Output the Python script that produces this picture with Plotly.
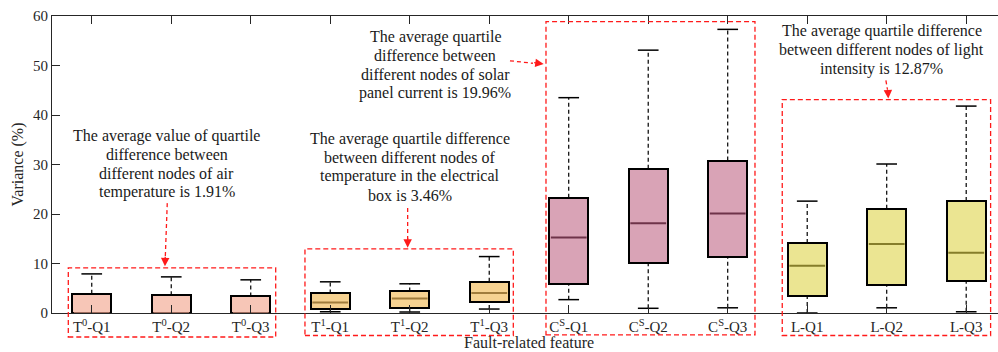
import plotly.graph_objects as go

# ---- data -------------------------------------------------------------
categories = [
    "T<sup>0</sup>-Q1", "T<sup>0</sup>-Q2", "T<sup>0</sup>-Q3",
    "T<sup>1</sup>-Q1", "T<sup>1</sup>-Q2", "T<sup>1</sup>-Q3",
    "C<sup>S</sup>-Q1", "C<sup>S</sup>-Q2", "C<sup>S</sup>-Q3",
    "L-Q1", "L-Q2", "L-Q3",
]
upper_whisker = [7.9, 7.3, 6.7, 6.3, 5.9, 11.4, 43.5, 53.1, 57.3, 22.6, 30.1, 41.8]
q3_values = [3.9, 3.6, 3.35, 3.95, 4.35, 6.3, 23.3, 29.15, 30.8, 14.15, 21.05, 22.65]
median_values = [0.0, 0.0, 0.0, 2.1, 2.95, 4.05, 15.25, 18.15, 20.1, 9.55, 13.95, 12.15]
q1_values = [0.0, 0.0, 0.0, 0.85, 1.0, 2.15, 5.95, 10.2, 11.3, 3.5, 5.7, 6.5]
lower_whisker = [0.0, 0.0, 0.0, 0.25, 0.2, 0.8, 2.7, 0.95, 1.05, 0.0, 1.05, 0.25]

group_notes = [
    ["The average value of quartile", "difference between",
     "different nodes of air", "temperature is 1.91%"],
    ["The average quartile difference", "between different nodes of",
     "temperature in the electrical", "box is 3.46%"],
    ["The average quartile", "difference between",
     "different nodes of solar", "panel current is 19.96%"],
    ["The average quartile difference", "between different nodes of light",
     "intensity is 12.87%"],
]
y_ticks = [0, 10, 20, 30, 40, 50, 60]

# ---- styling ----------------------------------------------------------
FONT = "Liberation Serif, Times New Roman, serif"
AX = "#262626"
fills = ["#F7C6B7"] * 3 + ["#F6D291"] * 3 + ["#D9A3B6"] * 3 + ["#EBE592"] * 3
median_colors = ["#9C6A5C"] * 3 + ["#A07C3C"] * 3 + ["#6E3349"] * 3 + ["#857D2A"] * 3
Y_MIN, Y_MAX = 0, 60
BOX_W = 0.49
CAP_W = 0.26

pos = list(range(1, len(categories) + 1))

fig = go.Figure()

# whiskers (dashed) from box edges to whisker ends
wx, wy = [], []
for p, lo, q1, q3, hi in zip(pos, lower_whisker, q1_values, q3_values, upper_whisker):
    wx += [p, p, None, p, p, None]
    wy += [q3, hi, None, lo, q1, None]
fig.add_trace(go.Scatter(x=wx, y=wy, mode="lines", hoverinfo="skip",
                         line=dict(color="black", width=1.2, dash="4px,3px"),
                         showlegend=False))

# boxes between first and third quartile
fig.add_trace(go.Bar(
    x=pos, y=[b - a for a, b in zip(q1_values, q3_values)], base=q1_values,
    width=BOX_W, marker=dict(color=fills, line=dict(color="black", width=2)),
    showlegend=False, hoverinfo="skip",
))

# whisker caps
cx, cy = [], []
for p, lo, hi in zip(pos, lower_whisker, upper_whisker):
    cx += [p - CAP_W / 2, p + CAP_W / 2, None, p - CAP_W / 2, p + CAP_W / 2, None]
    cy += [hi, hi, None, lo, lo, None]
fig.add_trace(go.Scatter(x=cx, y=cy, mode="lines", hoverinfo="skip",
                         line=dict(color="black", width=1.5), showlegend=False))

# medians
for p, m, c in zip(pos, median_values, median_colors):
    fig.add_trace(go.Scatter(x=[p - BOX_W / 2 + 0.02, p + BOX_W / 2 - 0.02], y=[m, m],
                             mode="lines", line=dict(color=c, width=2),
                             hoverinfo="skip", showlegend=False))


def ypaper(v):
    return (v - Y_MIN) / (Y_MAX - Y_MIN)


# dashed red frames round each feature group
frames = [
    (0.705, 3.314, -4.85, 9.1),
    (3.682, 6.303, -4.55, 12.95),
    (6.714, 9.343, -4.4, 58.85),
    (9.686, 12.307, -4.55, 43.1),
]
shapes = []
for x0, x1, y0, y1 in frames:
    shapes.append(dict(type="rect", xref="x", yref="paper", x0=x0, x1=x1,
                       y0=ypaper(y0), y1=ypaper(y1),
                       line=dict(color="#FF1A1A", width=1.3, dash="5px,3px"),
                       fillcolor="rgba(0,0,0,0)", layer="above"))

# arrows: dashed shaft + arrow head
arrows = [
    # (x_tail, y_tail, x_head, y_head, head_dx_px, head_dy_px)
    (1.950, 22.2, 1.925, 11.2, 0.3, -11),
    (4.974, 21.2, 4.974, 14.9, 0, -11),
    (6.261, 50.95, 6.55, 50.45, -11, -1.5),
    (10.99, 47.0, 11.01, 45.1, -0.5, -10),
]
heads = [
    (1.921, 9.45),
    (4.974, 13.2),
    (6.685, 50.3),
    (11.02, 43.35),
]
annotations = []
for (xt, yt, xh, yh, dx, dy), (hx, hy) in zip(arrows, heads):
    shapes.append(dict(type="line", xref="x", yref="y", x0=xt, y0=yt, x1=xh, y1=yh,
                       line=dict(color="#FF1A1A", width=1.3, dash="4px,3px")))
    annotations.append(dict(x=hx, y=hy, xref="x", yref="y", text="", showarrow=True,
                            ax=dx, ay=dy, arrowhead=2, arrowsize=1.3, arrowwidth=1.3,
                            arrowcolor="#FF1A1A", standoff=0, startstandoff=0))

# note text, one annotation per line for a tight leading
LINE_STEP = 3.8  # data units between consecutive lines
note_top = [(1.943, 35.8), (5.003, 35.2), (5.318, 55.8), (10.937, 56.9)]
for (nx, ny), lines in zip(note_top, group_notes):
    for i, line in enumerate(lines):
        annotations.append(dict(x=nx, y=ny - i * LINE_STEP, xref="x", yref="y", text=line,
                                showarrow=False, xanchor="center", yanchor="middle",
                                font=dict(family=FONT, size=16, color="#1A1A1A")))

# axis titles
annotations.append(dict(x=6.5, y=-0.098, xref="x", yref="paper", text="Fault-related feature",
                        showarrow=False, xanchor="center", yanchor="middle", borderpad=0,
                        font=dict(family=FONT, size=16, color=AX)))
annotations.append(dict(x=-0.036, y=0.5, xref="paper", yref="paper", text="Variance (%)",
                        showarrow=False, textangle=-90, xanchor="center", yanchor="middle",
                        font=dict(family=FONT, size=16, color=AX)))

fig.update_layout(
    width=998, height=352,
    margin=dict(l=52, r=0, t=16, b=39),
    paper_bgcolor="white", plot_bgcolor="white",
    font=dict(family=FONT, size=15, color=AX),
    shapes=shapes, annotations=annotations,
    bargap=0,
    xaxis=dict(range=[0.5, 12.4], tickmode="array", tickvals=pos, ticktext=categories,
               showline=True, linecolor=AX, linewidth=1, mirror="ticks",
               ticks="inside", ticklen=8, tickcolor=AX, tickwidth=1,
               showgrid=False, zeroline=False, tickfont=dict(family=FONT, size=15, color=AX)),
    yaxis=dict(range=[Y_MIN, Y_MAX], tickmode="array", tickvals=y_ticks,
               showline=True, linecolor=AX, linewidth=1, mirror=False,
               ticks="inside", ticklen=8, tickcolor=AX, tickwidth=1,
               showgrid=False, zeroline=False, tickfont=dict(family=FONT, size=15, color=AX)),
)

fig.write_html("out.html")
